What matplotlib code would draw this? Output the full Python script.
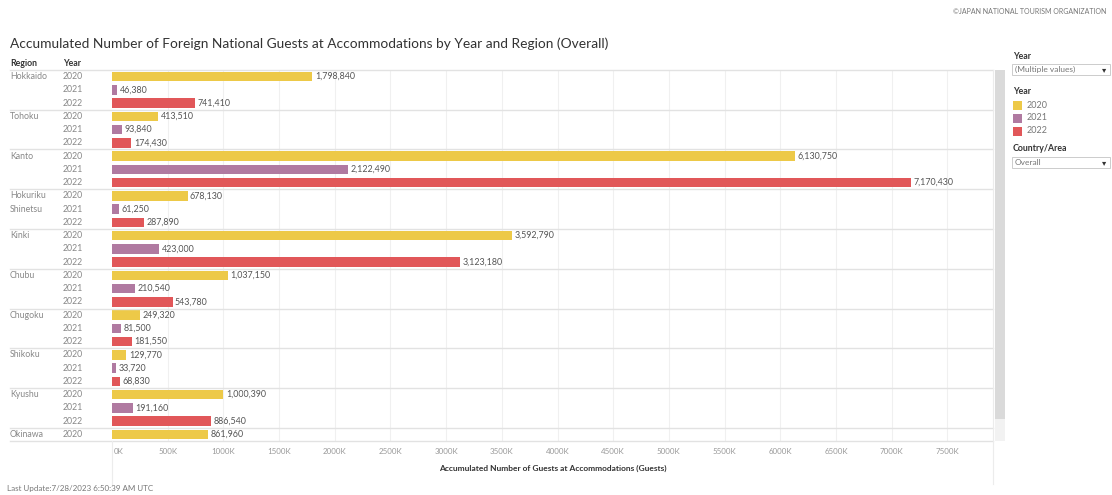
import matplotlib
matplotlib.use("Agg")
import matplotlib.pyplot as plt
from matplotlib.transforms import blended_transform_factory
from matplotlib.lines import Line2D
from matplotlib.patches import Rectangle

plt.rcParams['font.family'] = ['Lato', 'DejaVu Sans']

# ---- data -------------------------------------------------------------
regions = ["Hokkaido", "Tohoku", "Kanto", "Hokuriku\nShinetsu", "Kinki",
           "Chubu", "Chugoku", "Shikoku", "Kyushu", "Okinawa"]
years = ["2020", "2021", "2022"]
guests_2020 = [1798840, 413510, 6130750, 678130, 3592790, 1037150, 249320, 129770, 1000390, 861960]
guests_2021 = [46380, 93840, 2122490, 61250, 423000, 210540, 81500, 33720, 191160, None]
guests_2022 = [741410, 174430, 7170430, 287890, 3123180, 543780, 181550, 68830, 886540, None]
x_ticks = list(range(0, 8000000, 500000))

colors = {"2020": "#edc948", "2021": "#b07aa1", "2022": "#e15759"}

W, H = 1112, 495
fig = plt.figure(figsize=(W / 100, H / 100), dpi=100)
fig.patch.set_facecolor("white")


def fx(x):
    return x / W


def fy(y):
    return 1 - y / H


ax_left, ax_right, ax_top, ax_bot = 112, 993, 70, 441
x_max = 7.91e6
ax = fig.add_axes([fx(ax_left), fy(ax_bot), fx(ax_right - ax_left), (ax_bot - ax_top) / H])

# ---- build rows -------------------------------------------------------
rows = []          # (region index, year, value)
group_starts = []
series = {"2020": guests_2020, "2021": guests_2021, "2022": guests_2022}
for i, reg in enumerate(regions):
    group_starts.append(len(rows))
    for yr in years:
        v = series[yr][i]
        if v is not None:
            rows.append((i, yr, v))
n = len(rows)

ypos = list(range(n))
vals = [r[2] for r in rows]
cols = [colors[r[1]] for r in rows]
ax.barh(ypos, vals, height=0.7, color=cols, zorder=3)

for y, v in zip(ypos, vals):
    ax.text(v + 22000, y, f"{v:,}", va="center", ha="left", fontsize=6.4,
            color="#555555", zorder=4)

ax.set_xlim(0, x_max)
ax.set_ylim(n - 0.5, -0.5)
ax.set_yticks([])
ax.set_xticks(x_ticks)
ax.set_xticklabels([])
ax.tick_params(axis="x", length=0)
for s in ax.spines.values():
    s.set_visible(False)
for t in x_ticks[1:]:
    ax.axvline(t, color="#f0f0f0", lw=0.8, zorder=1)

# tick labels below the pane
tick_y = fy(451)
for t in x_ticks:
    xpix = ax_left + (ax_right - ax_left) * t / x_max
    lab = f"{t // 1000}K"
    if t == 0:
        fig.text(fx(xpix + 1.5), tick_y, lab, ha="left", va="center", fontsize=5.7, color="#999999")
    else:
        fig.text(fx(xpix), tick_y, lab, ha="center", va="center", fontsize=5.7, color="#999999")

fig.text(fx((ax_left + ax_right) / 2), fy(468),
         "Accumulated Number of Guests at Accommodations (Guests)",
         ha="center", va="center", fontsize=6.0, color="#333333", fontweight="bold")

# ---- row headers ------------------------------------------------------
bt = blended_transform_factory(fig.transFigure, ax.transData)
for y, (ri, yr, v) in enumerate(rows):
    fig.text(fx(63), 0, yr, transform=bt, ha="left", va="center",
             fontsize=6.3, color="#888888").set_y(y)
for gi, start in enumerate(group_starts):
    name = regions[gi]
    for k, part in enumerate(name.split("\n")):
        t = fig.text(fx(10), 0, part, transform=bt, ha="left", va="center",
                     fontsize=6.3, color="#888888")
        t.set_y(start + k)

# group separators spanning header and pane
line_color = "#e2e2e2"
for start in group_starts[1:]:
    fig.add_artist(Line2D([fx(10), fx(ax_right)], [start - 0.5, start - 0.5],
                          transform=bt, color=line_color, lw=1.0))
fig.add_artist(Line2D([fx(10), fx(ax_right)], [fy(ax_top)] * 2, color=line_color, lw=1.0))
fig.add_artist(Line2D([fx(10), fx(ax_right)], [fy(ax_bot)] * 2, color=line_color, lw=1.0))
fig.add_artist(Line2D([fx(ax_left)] * 2, [fy(ax_bot), fy(484)], color="#ececec", lw=0.8))
fig.add_artist(Line2D([fx(ax_right)] * 2, [fy(ax_top), fy(484)], color="#ececec", lw=0.8))

fig.text(fx(10), fy(64), "Region", ha="left", va="center", fontsize=6.3,
         color="#333333", fontweight="bold")
fig.text(fx(63), fy(64), "Year", ha="left", va="center", fontsize=6.3,
         color="#333333", fontweight="bold")

# scrollbar
fig.add_artist(Rectangle((fx(995), fy(419)), fx(10), (419 - ax_top) / H,
                         transform=fig.transFigure, color="#dadada", lw=0))
fig.add_artist(Rectangle((fx(995), fy(441)), fx(10), (441 - 419) / H,
                         transform=fig.transFigure, color="#f2f2f2", lw=0))

# ---- titles -----------------------------------------------------------
fig.text(fx(10), fy(44),
         "Accumulated Number of Foreign National Guests at Accommodations by Year and Region (Overall)",
         ha="left", va="center", fontsize=9.9, color="#333333")
fig.text(fx(1106), fy(12), "\u00a9JAPAN NATIONAL TOURISM ORGANIZATION",
         ha="right", va="center", fontsize=5.0, color="#777777")
fig.text(fx(7), fy(489), "Last Update:7/28/2023 6:50:39 AM UTC",
         ha="left", va="center", fontsize=5.8, color="#777777")

# ---- filter / legend panel --------------------------------------------
def dropdown(y_top, label, text):
    fig.text(fx(1013), fy(y_top - 8), label, ha="left", va="center", fontsize=6.3,
             color="#333333", fontweight="bold")
    fig.add_artist(Rectangle((fx(1012), fy(y_top + 11)), fx(98), 11 / H,
                             transform=fig.transFigure, facecolor="white",
                             edgecolor="#cccccc", lw=0.7))
    fig.text(fx(1015), fy(y_top + 5.5), text, ha="left", va="center", fontsize=6.0,
             color="#777777")
    fig.text(fx(1104), fy(y_top + 5.5), "\u25be", ha="center", va="center",
             fontsize=6, color="#333333", family="DejaVu Sans")

dropdown(64, "Year", "(Multiple values)")
fig.text(fx(1013), fy(92), "Year", ha="left", va="center", fontsize=6.3,
         color="#333333", fontweight="bold")
for k, yr in enumerate(years):
    yc = 105 + 13 * k
    fig.add_artist(Rectangle((fx(1013), fy(yc + 4.5)), fx(9), 9 / H,
                             transform=fig.transFigure, color=colors[yr], lw=0))
    fig.text(fx(1027), fy(yc), yr, ha="left", va="center", fontsize=6.5, color="#777777")
dropdown(157, "Country/Area", "Overall")

fig.savefig("out.png", dpi=100, facecolor="white")
